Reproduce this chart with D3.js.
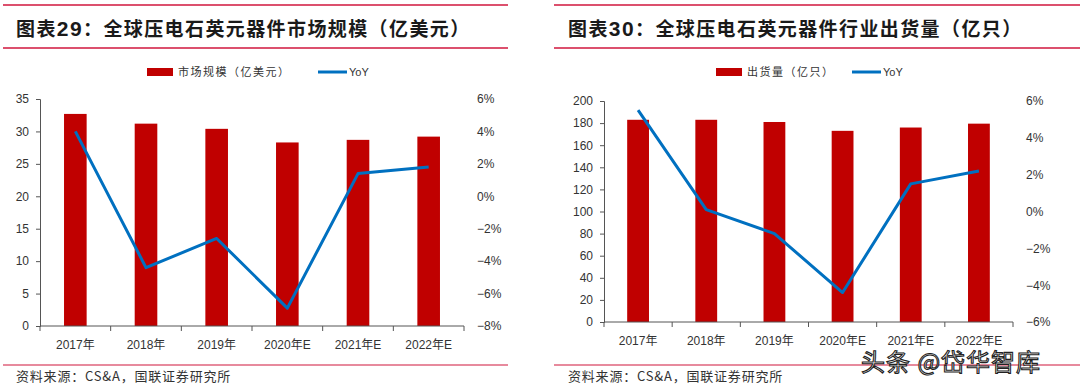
<html>
<head>
<meta charset="utf-8">
<script src="https://d3js.org/d3.v7.min.js"></script>
<style>
  body { margin: 0; background: #fff; }
  text { font-family: "Liberation Sans", Arial, "Noto Sans CJK SC", sans-serif; }
  .cjk { font-family: "Noto Sans CJK SC", sans-serif; }
</style>
</head>
<body>
<div id="chart"></div>
<script>
// categories
var years = ["2017年", "2018年", "2019年", "2020年E", "2021年E", "2022年E"];

// chart 29: market size (亿美元) and YoY (%)
var marketSize = [32.7, 31.2, 30.4, 28.3, 28.7, 29.2];
var marketYoY = [4.0, -4.4, -2.6, -6.9, 1.4, 1.8];
var marketTicks = [0, 5, 10, 15, 20, 25, 30, 35];
var marketYoYTicks = [-8, -6, -4, -2, 0, 2, 4, 6];

// chart 30: shipments (亿只) and YoY (%)
var shipments = [183, 183, 181, 173, 176, 179.5];
var shipmentYoY = [5.5, 0.1, -1.2, -4.4, 1.5, 2.2];
var shipmentTicks = [0, 20, 40, 60, 80, 100, 120, 140, 160, 180, 200];
var shipmentYoYTicks = [-6, -4, -2, 0, 2, 4, 6];

var svg = d3.select("#chart").append("svg")
  .attr("width", 1080).attr("height", 388);

var red = "#C00000", blue = "#0070C0", frameRed = "#D0163C";

function drawChart(opt) {
  var g = svg.append("g");

  // frame lines
  g.append("line").attr("x1", opt.frameX0).attr("x2", opt.frameX1).attr("y1", 5).attr("y2", 5)
    .attr("stroke", frameRed).attr("stroke-width", 1.5);
  g.append("line").attr("x1", opt.frameX0).attr("x2", opt.frameX1).attr("y1", 48).attr("y2", 48)
    .attr("stroke", frameRed).attr("stroke-width", 1.5);
  g.append("line").attr("x1", opt.frameX0).attr("x2", opt.frameX1).attr("y1", 365).attr("y2", 365)
    .attr("stroke", frameRed).attr("stroke-width", 1.2);

  // title
  var title = g.append("text").attr("x", opt.titleX).attr("y", 36)
    .attr("font-size", "19px").attr("font-weight", "bold").attr("fill", "#1a1a1a")
    .attr("letter-spacing", "1.4px").attr("class", "cjk");
  title.append("tspan").text("图表");
  title.append("tspan").attr("font-family", "Liberation Sans, Arial").attr("font-size", "21px").text(opt.num);
  title.append("tspan").text(opt.title);

  // source
  g.append("text").attr("class", "cjk").attr("x", opt.titleX).attr("y", 381)
    .attr("font-size", "13px").attr("fill", "#333").attr("letter-spacing", "0.8px")
    .text("资料来源：CS&A，国联证券研究所");

  // scales
  var x = d3.scaleBand().domain(years).range([opt.x0, opt.x1]);
  var y = d3.scaleLinear().domain([0, opt.yMax]).range([opt.yBottom, opt.yTop]);
  var y2 = d3.scaleLinear().domain([opt.rMin, opt.rMax]).range([opt.yBottom, opt.yTop]);

  // bars
  var bw = x.bandwidth() * 0.32;
  g.append("g").selectAll("rect").data(opt.bars).enter().append("rect")
    .attr("x", function (d, i) { return x(years[i]) + x.bandwidth() / 2 - bw / 2; })
    .attr("y", function (d) { return y(d); })
    .attr("width", bw)
    .attr("height", function (d) { return y(0) - y(d); })
    .attr("fill", red);

  // left axis
  var la = g.append("g").attr("transform", "translate(" + opt.x0 + ",0)")
    .call(d3.axisLeft(y).tickValues(opt.yTicks).tickSize(4).tickPadding(7));
  la.selectAll("path, line").attr("stroke", "#555");
  la.selectAll("text").attr("font-size", "12px").attr("fill", "#333")
    .attr("font-family", "Liberation Sans, Arial");

  // right axis (labels only)
  var ra = g.append("g").attr("transform", "translate(" + opt.x1 + ",0)")
    .call(d3.axisRight(y2).tickValues(opt.rTicks).tickSize(0).tickPadding(opt.rPad)
      .tickFormat(function (d) { return (d < 0 ? "\u2212" + (-d) : d) + "%"; }));
  ra.select(".domain").remove();
  ra.selectAll("text").attr("font-size", "12px").attr("fill", "#333")
    .attr("font-family", "Liberation Sans, Arial");

  // bottom axis, ticks at category boundaries
  var xa = g.append("g").attr("transform", "translate(0," + opt.yBottom + ")");
  xa.append("line").attr("x1", opt.x0).attr("x2", opt.x1).attr("stroke", "#555");
  var bounds = years.map(function (d) { return x(d); }).concat([opt.x1]);
  xa.selectAll(".tk").data(bounds).enter().append("line")
    .attr("x1", function (d) { return d; }).attr("x2", function (d) { return d; })
    .attr("y1", 0).attr("y2", 5).attr("stroke", "#555");
  xa.selectAll(".lbl").data(years).enter().append("text")
    .attr("x", function (d) { return x(d) + x.bandwidth() / 2; })
    .attr("y", 23).attr("text-anchor", "middle")
    .attr("font-size", "12px").attr("fill", "#333")
    .text(function (d) { return d; });

  // YoY line
  var line = d3.line()
    .x(function (d, i) { return x(years[i]) + x.bandwidth() / 2; })
    .y(function (d) { return y2(d); });
  g.append("path").datum(opt.yoy).attr("d", line)
    .attr("fill", "none").attr("stroke", blue).attr("stroke-width", 3)
    .attr("stroke-linejoin", "round");

  // legend
  var lg = g.append("g").attr("transform", "translate(" + opt.legX + ",72)");
  lg.append("rect").attr("x", 0).attr("y", -4).attr("width", 26).attr("height", 8).attr("fill", red);
  lg.append("text").attr("class", "cjk").attr("x", 31).attr("y", 4).attr("font-size", "11px")
    .attr("fill", "#333").attr("letter-spacing", "1.5px").text(opt.legName);
  lg.append("line").attr("x1", opt.legGap).attr("x2", opt.legGap + 29).attr("y1", 0).attr("y2", 0)
    .attr("stroke", blue).attr("stroke-width", 3);
  lg.append("text").attr("x", opt.legGap + 31).attr("y", 4).attr("font-size", "11px")
    .attr("fill", "#333").text("YoY");
}

drawChart({
  frameX0: 3, frameX1: 508, titleX: 16, num: "29",
  title: "：全球压电石英元器件市场规模（亿美元）",
  x0: 40, x1: 464, yTop: 99, yBottom: 326,
  yMax: 35, yTicks: marketTicks, rMin: -8, rMax: 6, rTicks: marketYoYTicks, rPad: 13,
  bars: marketSize, yoy: marketYoY,
  legX: 147, legName: "市场规模（亿美元）", legGap: 171
});

drawChart({
  frameX0: 554, frameX1: 1080, titleX: 568, num: "30",
  title: "：全球压电石英元器件行业出货量（亿只）",
  x0: 604, x1: 1013, yTop: 101, yBottom: 322,
  yMax: 200, yTicks: shipmentTicks, rMin: -6, rMax: 6, rTicks: shipmentYoYTicks, rPad: 13,
  bars: shipments, yoy: shipmentYoY,
  legX: 716, legName: "出货量（亿只）", legGap: 136
});

// watermark
svg.append("text").attr("class", "cjk").attr("x", 861).attr("y", 371)
  .attr("font-size", "24px").attr("fill", "#fff").attr("stroke", "#222")
  .attr("stroke-width", 1.1).attr("letter-spacing", "1px")
  .text("头条 @岱华智库");
</script>
</body>
</html>
